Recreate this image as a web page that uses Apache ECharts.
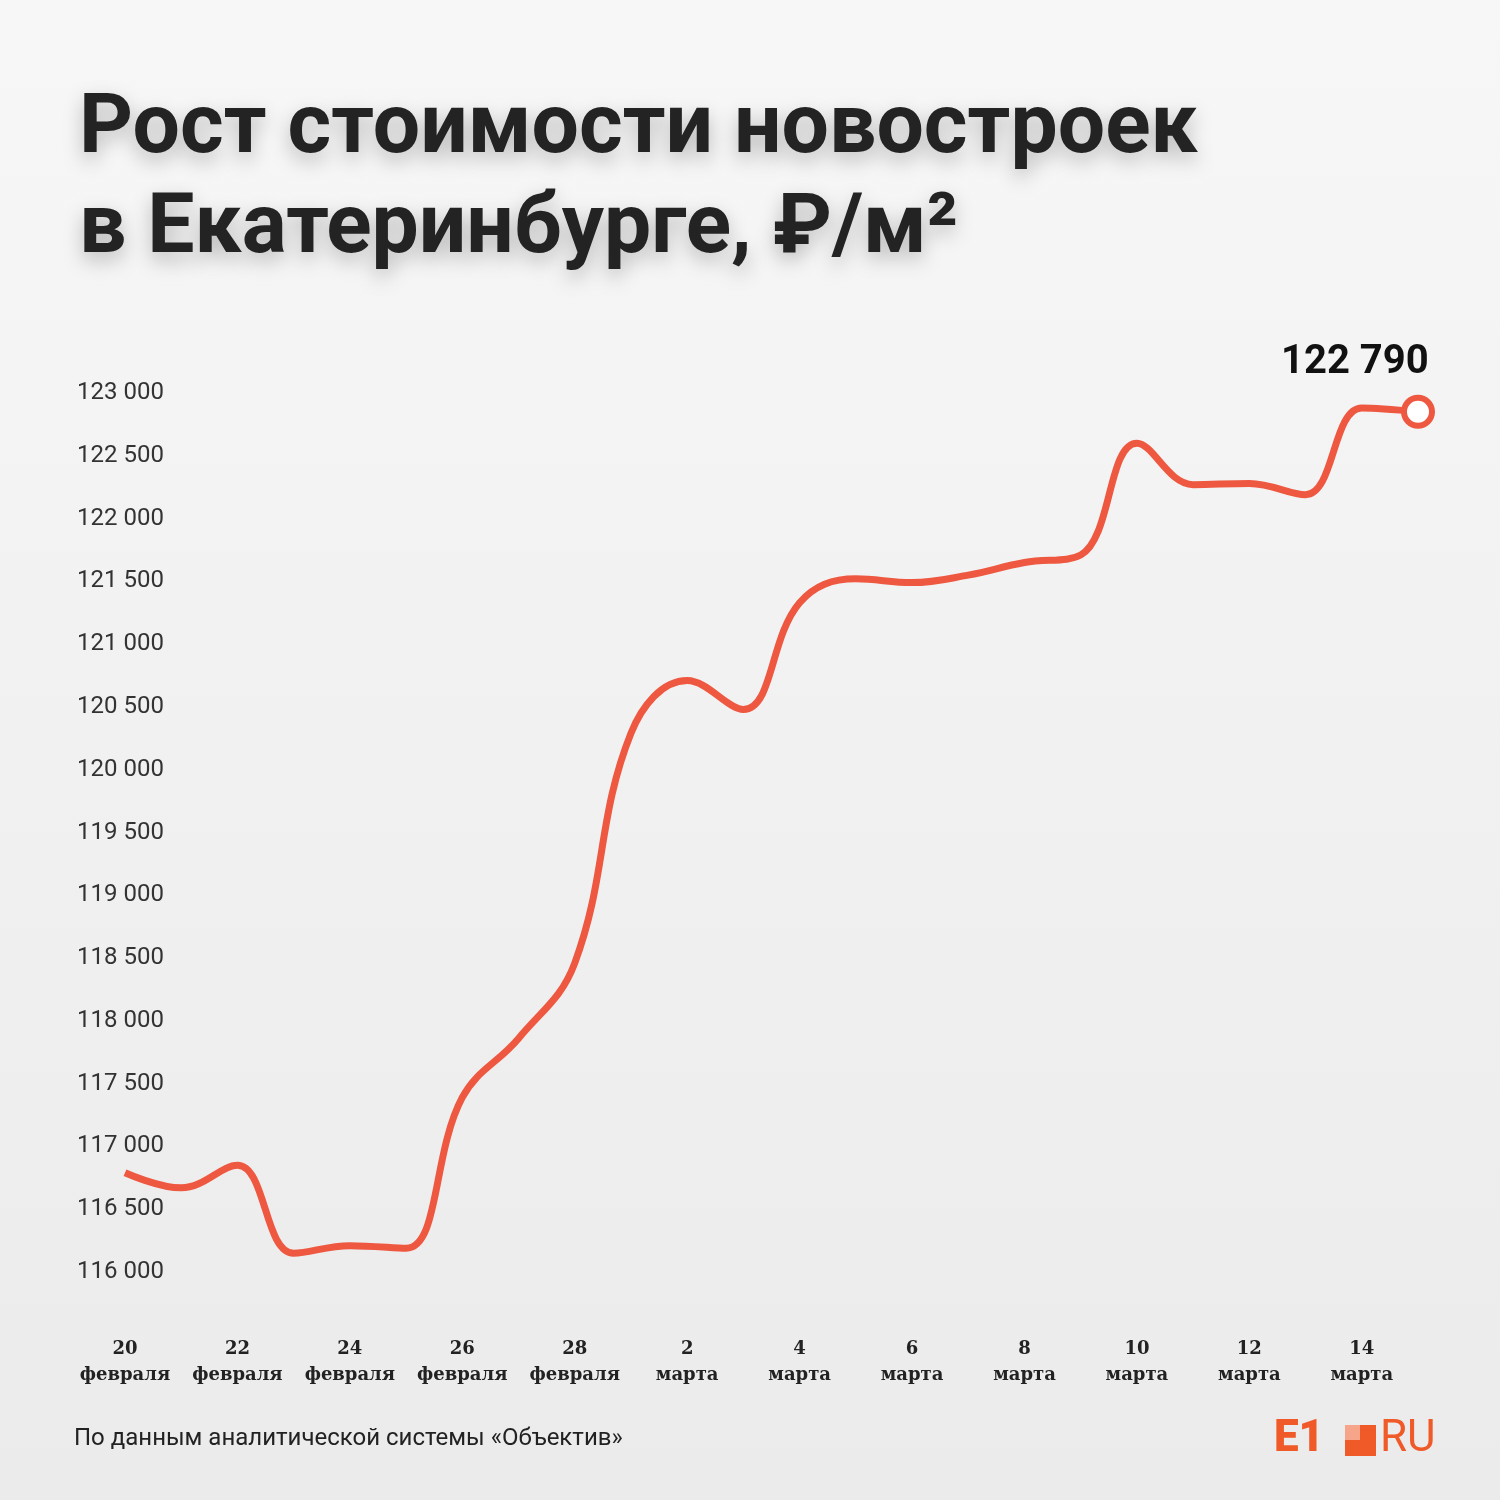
<!DOCTYPE html>
<html><head><meta charset="utf-8">
<script src="https://cdn.jsdelivr.net/npm/echarts@6/dist/echarts.min.js"></script>
<style>html,body{margin:0;padding:0;background:#efefef}#c{width:1500px;height:1500px}</style>
</head><body><div id="c"></div>
<script>
const dates = ["20\nфевраля","21\nфевраля","22\nфевраля","23\nфевраля","24\nфевраля","25\nфевраля","26\nфевраля","27\nфевраля","28\nфевраля","1\nмарта","2\nмарта","3\nмарта","4\nмарта","5\nмарта","6\nмарта","7\nмарта","8\nмарта","9\nмарта","10\nмарта","11\nмарта","12\nмарта","13\nмарта","14\nмарта","15\nмарта"];
const prices = [116790,116670,116850,116150,116210,116190,117390,117860,118460,120290,120710,120480,121330,121520,121490,121550,121650,121710,122600,122270,122280,122190,122880,122850];
const titleText = "Рост стоимости новостроек\nв Екатеринбурге, ₽/м²";
const sourceText = "По данным аналитической системы «Объектив»";
const lastLabel = "122 790";

const chart = echarts.init(document.getElementById('c'));
const fmt = v => String(v).replace(/\B(?=(\d{3})+(?!\d))/g, ' ');
const data = prices.map((v,i)=> i===prices.length-1 ? {value:v, symbol:'circle', symbolSize:28,
  itemStyle:{color:'#fff',borderColor:'#ef5840',borderWidth:6},
  label:{show:true,position:[-120,-52],formatter:lastLabel,fontSize:40,fontWeight:'bold',color:'#111',fontFamily:'Roboto'}} : v);
chart.setOption({
  backgroundColor:{type:'linear',x:0,y:0,x2:0,y2:1,colorStops:[{offset:0,color:'#f7f7f7'},{offset:1,color:'#ebebeb'}]},
  animation:false,
  title:{text:titleText,left:74,top:76,textStyle:{fontSize:84,fontWeight:'bold',color:'#232323',fontFamily:'Roboto',lineHeight:100,
    textShadowColor:'rgba(0,0,0,0.25)',textShadowBlur:20,textShadowOffsetY:8}},
  graphic:[
    {type:'text',left:74,top:1427,style:{text:sourceText,fontSize:24,fill:'#222',fontFamily:'Roboto'}},
    {type:'text',left:1274,top:1418,style:{text:'E1',fontSize:44,fontWeight:900,fill:'#ef5a28',fontFamily:'Roboto'}},
    {type:'rect',left:1345,top:1425,shape:{width:31,height:31},style:{fill:'#ef5a28'}},
    {type:'rect',left:1345,top:1425,shape:{width:15,height:15},style:{fill:'#f7a58a'}},
    {type:'text',left:1380,top:1418,style:{text:'RU',fontSize:44,fill:'#ef5a28',fontFamily:'Roboto'}}
  ],
  grid:{left:125,right:82,top:393,bottom:228},
  xAxis:{type:'category',data:dates,boundaryGap:false,axisLine:{show:false},axisTick:{show:false},
    axisLabel:{interval:1,margin:64,fontSize:18,fontWeight:'bold',color:'#222',fontFamily:'DejaVu Serif',lineHeight:26}},
  yAxis:{type:'value',min:116000,max:123000,interval:500,splitLine:{show:false},
    axisLabel:{formatter:fmt,align:'left',margin:48,fontSize:24,color:'#333',fontFamily:'Roboto'}},
  series:[{type:'line',data:data,smooth:0.4,showSymbol:true,symbol:'none',lineStyle:{color:'#ef5840',width:7},z:3}]
});
</script></body></html>
